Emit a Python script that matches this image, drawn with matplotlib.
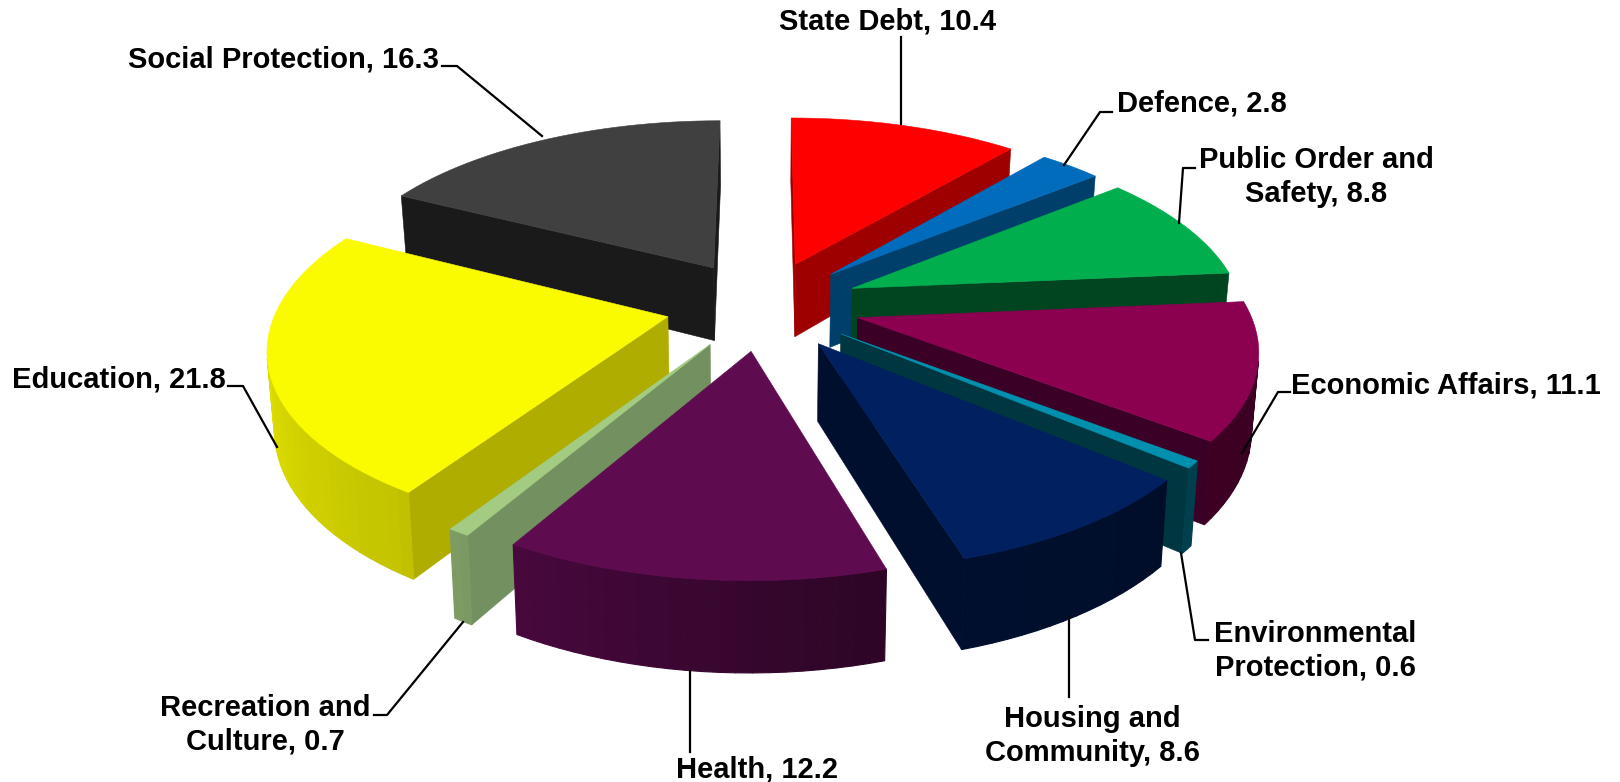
import numpy as np
import matplotlib
matplotlib.use("Agg")
import matplotlib.pyplot as plt
from matplotlib.patches import Polygon

# --- DATA ---
categories = ['State Debt', 'Defence', 'Public Order and\nSafety', 'Economic Affairs',
              'Environmental\nProtection', 'Housing and\nCommunity', 'Health',
              'Recreation and\nCulture', 'Education', 'Social Protection']
values = [10.4, 2.8, 8.8, 11.1, 0.6, 8.6, 12.2, 0.7, 21.8, 16.3]

# --- STYLE ---
top_colors = ['#FF0000', '#006CBB', '#00AE4E', '#8C0050', '#0090AE',
              '#00205F', '#5F0B50', '#A3CB82', '#FAFA00', '#404040']
wall_colors = ['#9E0000', '#003F6A', '#004520', '#3A0026', '#003640',
               '#000F2E', '#3A0630', '#739060', '#AEAD00', '#1A1A1A']
label_pos = [(888, 22), (1202, 103), (1316, 177), (1446, 385), (1315, 651),
             (1092, 736), (757, 769), (265, 725), (119, 379), (283, 60)]
leaders = [[(901, 37), (901, 124)],
           [(1112, 112), (1100, 112), (1064, 165)],
           [(1195, 168), (1183, 168), (1179, 223)],
           [(1290, 392), (1278, 392), (1242, 453)],
           [(1181, 553), (1195, 640), (1208, 640)],
           [(1069, 617), (1069, 697)],
           [(690, 671), (690, 752)],
           [(374, 715), (387, 715), (463, 622)],
           [(228, 386), (243, 386), (277, 447)],
           [(442, 66), (457, 66), (542, 136)]]

# --- 3D pie geometry ---
CX, CY = 763, 305
RX, RY = 390, 179.5
PERSP = 0.15
DEPTH = 75
EXPLODE = 0.25
BOTTOM_SHRINK = 0.985


def project(x, y, bottom=False):
    f = 1 / (1 + PERSP * y)
    sx = RX * x * f
    sy = RY * y * f
    if bottom:
        return CX + sx * BOTTOM_SHRINK, CY - sy + DEPTH * f
    return CX + sx, CY - sy


def shade(theta):
    return np.interp(theta, [90, 165, 215, 270, 360], [0.40, 0.48, 0.78, 0.92, 0.90])


def signed_area(pts):
    p = np.array(pts)
    return 0.5 * np.sum(p[:, 0] * np.roll(p[:, 1], -1) - np.roll(p[:, 0], -1) * p[:, 1])


fig = plt.figure(figsize=(16.2, 7.82), dpi=100)
ax = fig.add_axes([0, 0, 1, 1])
ax.set_xlim(0, 1620)
ax.set_ylim(782, 0)
ax.axis('off')

total = sum(values)
angles = np.cumsum([0] + [v / total * 360 for v in values])

# back slices first so nearer ones paint over them
slices = []
for i in range(len(values)):
    mid = np.radians((angles[i] + angles[i + 1]) / 2)
    slices.append((np.cos(mid), i))

for _, i in sorted(slices, reverse=True):
    a0, a1 = angles[i], angles[i + 1]
    mid = np.radians((a0 + a1) / 2)
    ox, oy = EXPLODE * np.sin(mid), EXPLODE * np.cos(mid)
    th = np.linspace(a0, a1, max(int((a1 - a0) / 2), 2) + 1)
    xs = ox + np.sin(np.radians(th))
    ys = oy + np.cos(np.radians(th))
    rim_top = [project(x, y) for x, y in zip(xs, ys)]
    rim_bot = [project(x, y, True) for x, y in zip(xs, ys)]
    apex_top = project(ox, oy)
    apex_bot = project(ox, oy, True)

    # radial walls, only where they face the viewer
    for rim_t, rim_b, sign in [(rim_top[0], rim_bot[0], -1), (rim_top[-1], rim_bot[-1], 1)]:
        quad = [apex_top, rim_t, rim_b, apex_bot]
        if signed_area(quad) * sign > 0:
            ax.add_patch(Polygon(quad, closed=True, fc=wall_colors[i], ec=wall_colors[i], lw=0.4))

    # outer wall in narrow strips, shaded by angle
    base = np.array(matplotlib.colors.to_rgb(top_colors[i]))
    for k in range(len(th) - 1):
        quad = [rim_top[k], rim_top[k + 1], rim_bot[k + 1], rim_bot[k]]
        if signed_area(quad) < 0:
            c = base * shade((th[k] + th[k + 1]) / 2)
            ax.add_patch(Polygon(quad, closed=True, fc=c, ec=c, lw=0.8))

    ax.add_patch(Polygon([apex_top] + rim_top, closed=True, fc=top_colors[i],
                         ec=top_colors[i], lw=0.4))

# --- labels ---
for name, val, pos, pts in zip(categories, values, label_pos, leaders):
    ax.text(pos[0], pos[1], f"{name}, {val}", ha='center', va='center', ma='center',
            family='Liberation Sans', fontweight='bold', fontsize=21, color='black',
            linespacing=1.25)
    ax.plot([p[0] for p in pts], [p[1] for p in pts], color='black', lw=1.6)

fig.savefig('out.png', dpi=100)
